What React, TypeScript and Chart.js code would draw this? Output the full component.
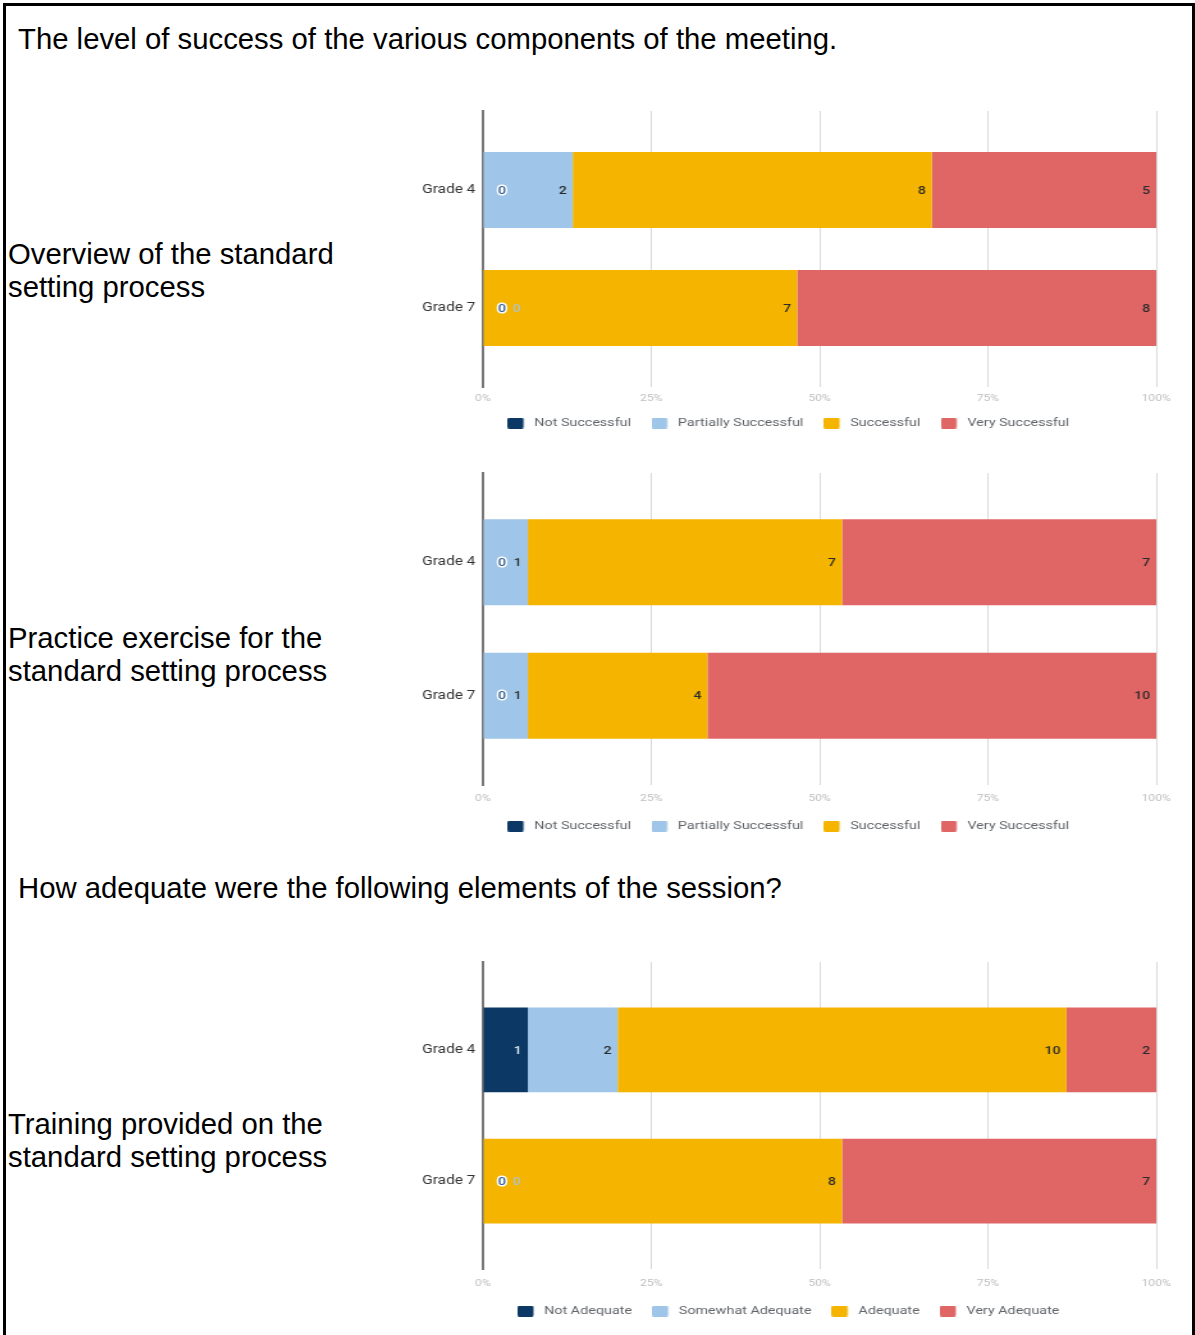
import React, { useEffect, useRef } from "react";
import { Chart, registerables } from "chart.js";

Chart.register(...registerables);

// ---------- data ----------
const GRADES = ["Grade 4", "Grade 7"];
const SUCCESS_LEVELS = ["Not Successful", "Partially Successful", "Successful", "Very Successful"];
const ADEQUACY_LEVELS = ["Not Adequate", "Somewhat Adequate", "Adequate", "Very Adequate"];
const X_TICKS = [0, 25, 50, 75, 100];

// Overview of the standard setting process (counts per grade)
const OVERVIEW_NOT = [0, 0];
const OVERVIEW_PARTIAL = [2, 0];
const OVERVIEW_SUCCESSFUL = [8, 7];
const OVERVIEW_VERY = [5, 8];

// Practice exercise for the standard setting process
const PRACTICE_NOT = [0, 0];
const PRACTICE_PARTIAL = [1, 1];
const PRACTICE_SUCCESSFUL = [7, 4];
const PRACTICE_VERY = [7, 10];

// Training provided on the standard setting process
const TRAINING_NOT = [1, 0];
const TRAINING_SOMEWHAT = [2, 0];
const TRAINING_ADEQUATE = [10, 8];
const TRAINING_VERY = [2, 7];

// ---------- styles ----------
const COLORS = ["#0b3864", "#9fc5e8", "#f4b400", "#e06666"];
const ZERO_COLORS = ["#2f5e8e", "#b3c3c8", "#c99500", "#c05050"];
const STRETCH = 1.28;
const CANVAS_LEFT = 410;
const CANVAS_W = 607;
const PAD_TOP = 16;
const PAD_LEFT = 8;
const PAD_RIGHT = 24;
const LEGEND_FONT = 11.2;
const LEGEND_PAD = 15.6;
const LEGEND_H = LEGEND_FONT + LEGEND_PAD + 10;

function makeIcon(color: string) {
  const c = document.createElement("canvas");
  c.width = 15;
  c.height = 11;
  const g = c.getContext("2d")!;
  g.fillStyle = color;
  g.beginPath();
  if ((g as any).roundRect) (g as any).roundRect(0, 0, 12.5, 11, 1.5);
  else g.rect(0, 0, 12.5, 11);
  g.fill();
  return c;
}

const valueLabels = {
  id: "valueLabels",
  afterDatasetsDraw(chart: any) {
    const ctx = chart.ctx;
    chart.data.datasets.forEach((ds: any, di: number) => {
      const meta = chart.getDatasetMeta(di);
      meta.data.forEach((el: any, i: number) => {
        const v = ds.counts[i];
        const p = el.getProps(["x", "base", "y"], true);
        ctx.save();
        ctx.font = "500 11px Roboto";
        ctx.textBaseline = "middle";
        const ty = p.y + 1;
        if (v === 0) {
          ctx.textAlign = "center";
          const px = Math.min(p.x, p.base) + 14.8 + di * 11.7;
          if (di === 0) {
            ctx.lineWidth = 3;
            ctx.lineJoin = "round";
            ctx.strokeStyle = "#ffffff";
            ctx.strokeText("0", px, ty);
          }
          ctx.fillStyle = ZERO_COLORS[di];
          ctx.fillText("0", px, ty);
        } else {
          ctx.textAlign = "right";
          ctx.fillStyle = di === 0 ? "#e6edf5" : "#2b2b2b";
          ctx.fillText(String(v), Math.max(p.x, p.base) - 4.7, ty);
        }
        ctx.restore();
      });
    });
  },
};

type Props = {
  levels: string[];
  series: number[][];
  areaTop: number;
  areaHeight: number;
  xAxisHeight: number;
  tickPad: number;
};

function StackedChart({ levels, series, areaTop, areaHeight, xAxisHeight, tickPad }: Props) {
  const ref = useRef<HTMLCanvasElement | null>(null);
  const inner = PAD_TOP + areaHeight + xAxisHeight + LEGEND_H;
  const h = Math.ceil(inner + 4);
  const padBottom = h - inner;

  useEffect(() => {
    if (!ref.current) return;
    const totals = GRADES.map((_, i) => series.reduce((a, s) => a + s[i], 0));
    const icons = COLORS.map(makeIcon);
    const datasets = series.map((s, di) => ({
      label: levels[di],
      data: GRADES.map((_, i) => ({ x: (s[i] / totals[i]) * 100, y: i })),
      counts: s,
      backgroundColor: COLORS[di],
      borderWidth: 0,
      barPercentage: 0.645,
      categoryPercentage: 1,
    }));
    const chart = new Chart(ref.current, {
      type: "bar",
      data: { datasets } as any,
      options: {
        indexAxis: "y",
        animation: false,
        responsive: false,
        events: [],
        layout: { padding: { top: PAD_TOP, left: PAD_LEFT, right: PAD_RIGHT, bottom: padBottom } },
        scales: {
          x: {
            type: "linear",
            stacked: true,
            min: 0,
            max: 100,
            afterBuildTicks: (s: any) => {
              s.ticks = X_TICKS.map((v) => ({ value: v }));
            },
            afterFit: (s: any) => {
              s.height = xAxisHeight;
            },
            ticks: {
              callback: (v: any) => v + "%",
              color: "#bdbdbd",
              font: { family: "Roboto", size: 9.5 },
              padding: tickPad,
              maxRotation: 0,
            },
            grid: { color: "#d9d9d9", lineWidth: 1, drawTicks: false },
            border: { display: false },
          },
          y: {
            type: "linear",
            stacked: true,
            reverse: true,
            offset: false,
            min: -0.67,
            max: 1.67,
            afterBuildTicks: (s: any) => {
              s.ticks = GRADES.map((_, i) => ({ value: i }));
            },
            afterFit: (s: any) => {
              s.width = 49;
            },
            ticks: {
              callback: (v: any) => GRADES[v] ?? "",
              color: "#333333",
              font: { family: "Roboto", size: 12 },
              padding: 6,
            },
            grid: { display: false, drawTicks: false, offset: false },
            border: { display: true, color: "#777777", width: 2 },
          },
        } as any,
        plugins: {
          tooltip: { enabled: false },
          legend: {
            position: "bottom",
            labels: {
              usePointStyle: true,
              pointStyleWidth: 15.5,
              boxHeight: 11,
              padding: LEGEND_PAD,
              color: "#5f6368",
              font: { family: "Roboto", size: LEGEND_FONT },
              generateLabels: (c: any) =>
                c.data.datasets.map((ds: any, i: number) => ({
                  text: ds.label,
                  fillStyle: ds.backgroundColor,
                  strokeStyle: "transparent",
                  lineWidth: 0,
                  pointStyle: icons[i],
                  hidden: false,
                  datasetIndex: i,
                  fontColor: "#5f6368",
                })),
            },
          },
        } as any,
      },
      plugins: [valueLabels as any],
    });
    return () => chart.destroy();
  }, []);

  return (
    <div
      style={{
        position: "absolute",
        left: CANVAS_LEFT,
        top: areaTop - PAD_TOP,
        transform: `scaleX(${STRETCH})`,
        transformOrigin: "0 0",
      }}
    >
      <canvas ref={ref} width={CANVAS_W} height={h} />
    </div>
  );
}

const textBase: React.CSSProperties = {
  position: "absolute",
  fontSize: "29.3px",
  lineHeight: "33.5px",
  color: "#000",
  whiteSpace: "nowrap",
};

export default function App() {
  return (
    <div
      style={{
        position: "absolute",
        left: 0,
        top: 0,
        width: 1195,
        height: 1335,
        overflow: "hidden",
        background: "#ffffff",
        fontFamily: '"Liberation Sans", Arial, sans-serif',
      }}
    >
      <div
        style={{
          position: "absolute",
          left: 3,
          top: 3,
          width: 1192,
          height: 1400,
          border: "3px solid #000",
          boxSizing: "border-box",
        }}
      />
      <div style={{ ...textBase, left: 18, top: 22.3 }}>
        The level of success of the various components of the meeting.
      </div>
      <div style={{ ...textBase, left: 8, top: 236.5 }}>
        Overview of the standard
        <br />
        setting process
      </div>
      <div style={{ ...textBase, left: 8, top: 620.5 }}>
        Practice exercise for the
        <br />
        standard setting process
      </div>
      <div style={{ ...textBase, left: 18, top: 870.5 }}>
        How adequate were the following elements of the session?
      </div>
      <div style={{ ...textBase, left: 8, top: 1106.5 }}>
        Training provided on the
        <br />
        standard setting process
      </div>

      <StackedChart
        levels={SUCCESS_LEVELS}
        series={[OVERVIEW_NOT, OVERVIEW_PARTIAL, OVERVIEW_SUCCESSFUL, OVERVIEW_VERY]}
        areaTop={111}
        areaHeight={276}
        xAxisHeight={14.8}
        tickPad={5.8}
      />
      <StackedChart
        levels={SUCCESS_LEVELS}
        series={[PRACTICE_NOT, PRACTICE_PARTIAL, PRACTICE_SUCCESSFUL, PRACTICE_VERY]}
        areaTop={473}
        areaHeight={312}
        xAxisHeight={19.8}
        tickPad={7.8}
      />
      <StackedChart
        levels={ADEQUACY_LEVELS}
        series={[TRAINING_NOT, TRAINING_SOMEWHAT, TRAINING_ADEQUATE, TRAINING_VERY]}
        areaTop={962}
        areaHeight={307}
        xAxisHeight={20.8}
        tickPad={8.8}
      />
    </div>
  );
}
